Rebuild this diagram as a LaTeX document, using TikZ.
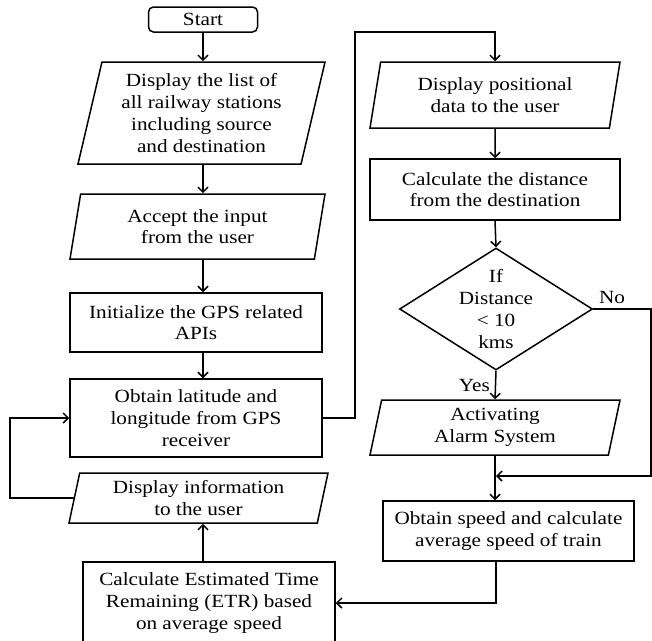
\documentclass[tikz,border=0pt]{standalone}
\usepackage{fontspec}
\setmainfont{Liberation Serif}[FakeStretch=1.14]
\usetikzlibrary{shapes.geometric,arrows.meta}

\begin{document}
\begin{tikzpicture}[x=1pt,y=-1pt,
    line width=1.5pt,
    every node/.style={font=\fontsize{18.6}{21.7}\selectfont, align=center, inner sep=0pt},
    term/.style={draw, rounded corners=5pt, minimum width=109, minimum height=25},
    proc/.style={draw, rectangle, minimum width=252, minimum height=60},
    io/.style={draw, trapezium, trapezium left angle=73, trapezium right angle=107,
        trapezium stretches body, minimum height=55},
    decide/.style={draw, diamond, minimum width=193, minimum height=122},
    arr/.style={-{Straight Barb[length=5pt,width=10pt]}}]
    \useasboundingbox (0,0) rectangle (652,640);

    % left column
    \node[term] (start) at (203,19.5) {Start};
    \node[io, minimum width=247, minimum height=102] (list) at (201.5,113)
        {Display the list of\\all railway stations\\including source\\and destination};
    \node[io, minimum width=255, minimum height=65] (accept) at (197.5,226.5)
        {Accept the input\\from the user};
    \node[proc, minimum height=59] (init) at (196,322.5) {Initialize the GPS related\\APIs};
    \node[proc, minimum height=78] (obtain) at (196,418)
        {Obtain latitude and\\longitude from GPS\\receiver};
    \node[io, minimum width=259, minimum height=50] (info) at (198.5,498)
        {Display information\\to the user};
    \node[proc, minimum height=82] (etr) at (209,603)
        {Calculate Estimated Time\\Remaining (ETR) based\\on average speed};

    % right column
    \node[io, minimum width=250, minimum height=66] (posn) at (495,95)
        {Display positional\\data to the user};
    \node[proc, minimum width=250, minimum height=61] (dist) at (495,189.5)
        {Calculate the distance\\from the destination};
    \node[decide] (dec) at (496,309) {};
    \node (dectext) at (dec) {If\\Distance\\< 10\\kms};
    \node[io, minimum width=250, minimum height=55] (alarm) at (495,427.5)
        {Activating\\Alarm System};
    \node[proc, minimum width=251, minimum height=60] (speed) at (508.5,531)
        {Obtain speed and calculate\\average speed of train};

    % bends
    \coordinate (lp) at (10,0);
    \coordinate (jr) at (355,32);
    \coordinate (nr) at (651,476);

    % arrows
    \draw[arr] (start.south) -- (start.south |- list.north);
    \draw[arr] (list.south -| start) -- (accept.north -| start);
    \draw[arr] (accept.south -| start) -- (init.north -| start);
    \draw[arr] (init.south -| start) -- (obtain.north -| start);
    \draw[arr] (obtain.east) -| (jr) -| (posn.north);
    \draw[arr] (posn.south) -- (dist.north);
    \draw[arr] (dist.south) -- (dec.north);
    \draw[arr] (dec.south) -- node[left=5pt] {Yes} (alarm.north);
    \draw[arr] (dec.east) node[anchor=south west, inner sep=5pt] {No} -| (nr) -- (dec |- nr);
    \draw[arr] (alarm.south) -- (alarm.south |- speed.north);
    \draw[arr] (dec |- speed.south) |- (etr.east);
    \draw[arr] (etr.north -| start) -- (info.south -| start);
    \draw[arr] (info.west) -- (lp |- info.west) |- (obtain.west);
\end{tikzpicture}
\end{document}
